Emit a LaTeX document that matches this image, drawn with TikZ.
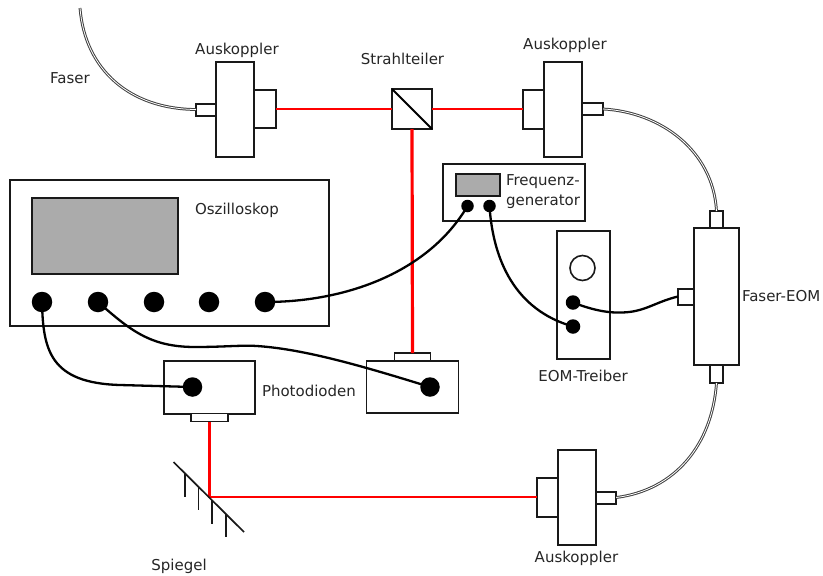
\documentclass[tikz,border=0pt]{standalone}
\usepackage{fontspec}
\setmainfont{DejaVu Sans}
\tikzset{
  part/.style={draw=black!90,line width=2pt,fill=white,inner sep=0pt,outer sep=0pt,rectangle},
  sized/.style 2 args={minimum width=#1pt,minimum height=#2pt},
  thinpart/.style={part,line width=1.7pt},
  screen/.style={part,fill=black!33},
  jack/.style={circle,fill=black,inner sep=0pt,outer sep=0pt,minimum size=#1pt},
  ring/.style={circle,draw=black!90,line width=1.6pt,fill=white,inner sep=0pt,outer sep=0pt,minimum size=25pt},
  beam/.style={draw=red,line width=2.7pt},
  widebeam/.style={draw=red,line width=3.2pt},
  fiber/.style={draw=black!75,double=white,double distance=0.8pt,line width=1pt},
  cable/.style={draw=black,line width=2.3pt},
  lbl/.style={text=black!85,font=\fontsize{15}{18}\selectfont,inner sep=0pt,outer sep=0pt},
  glass/.style={draw=black,line width=1.8pt},
  hatchline/.style={draw=black!90,line width=1.7pt}
}
\begin{document}
\begin{tikzpicture}[x=1pt,y=-1pt]
\useasboundingbox (0,0) rectangle (823,576);
\fill[white] (0,0) rectangle (823,576);

% free ends and mirror points
\coordinate (fiberend) at (80,8);
\coordinate (mhit) at (209.5,497);
\coordinate (ma) at (173.5,462);
\coordinate (mb) at (244,532);

% fibre couplers
\node[part,sized={38}{95}] (ak1) at (235,109.5) {};
\node[part,sized={20}{12}] (ak1l) at (206,109.5) {};
\node[part,sized={22}{38}] (ak1r) at (265,109) {};
\node[part,sized={38}{95}] (ak2) at (563,109.5) {};
\node[part,sized={21}{39}] (ak2l) at (533.5,109) {};
\node[part,sized={21}{12}] (ak2r) at (592.5,109) {};
\node[part,sized={38}{95}] (ak3) at (576.5,497.5) {};
\node[part,sized={21}{39}] (ak3l) at (547,497) {};
\node[part,sized={20.5}{12}] (ak3r) at (606,497.5) {};

% beam splitter
\node[part,sized={40}{40}] (bs) at (412,109) {};
\draw[glass] (bs.north west) -- (bs.south east);

% Faser-EOM
\node[part,sized={45}{137}] (eom) at (716.5,296.5) {};
\node[part,sized={13}{17}] (eomt) at (716.5,219.5) {};
\node[part,sized={13}{18}] (eomb) at (716.5,374) {};
\node[part,sized={16}{16}] (eoml) at (686,296.5) {};

% generator
\node[part,sized={142}{57}] (gen) at (514,192.5) {};
\node[screen,sized={44}{22}] (genscr) at (478,185) {};
\node[jack=12.5] (gena) at (467.5,206) {};
\node[jack=12.5] (genb) at (489.5,206) {};

% oscilloscope
\node[thinpart,sized={319}{146}] (osc) at (169.5,253) {};
\node[screen,sized={146}{76}] (oscscr) at (105,236) {};
\node[jack=20.5] (osca) at (42,302) {};
\node[jack=20.5] (oscb) at (98,302) {};
\node[jack=20.5] (oscc) at (154,302) {};
\node[jack=20.5] (oscd) at (209,302) {};
\node[jack=20.5] (osce) at (265,302) {};

% driver
\node[thinpart,sized={53}{128}] (drv) at (583.5,295) {};
\node[ring] (knob) at (582.5,268) {};
\node[jack=14.5] (drva) at (573,302.5) {};
\node[jack=14.5] (drvb) at (573,326.5) {};

% photodiodes
\node[thinpart,sized={91}{52.5}] (pda) at (209.5,387.5) {};
\node[thinpart,sized={36.5}{8}] (pdas) at (209.5,417.5) {};
\node[jack=19.5] (pdaj) at (192.5,387) {};
\node[thinpart,sized={92}{52}] (pdb) at (412.5,387) {};
\node[thinpart,sized={36}{8}] (pdbs) at (412.5,357) {};
\node[jack=19.5] (pdbj) at (430,387) {};

% beams
\draw[beam] (ak1r.east) -- (bs.west);
\draw[beam] (bs.east) -- (ak2l.west);
\draw[widebeam] (bs.south) -- (pdbs.north);
\draw[beam] (pdas.south) -- (mhit) -- (ak3l.west);

% mirror
\draw[hatchline] (ma) -- (mb);
\draw[hatchline] (185,473) -- (185,497);
\draw[hatchline] (198.5,486) -- (198.5,510);
\draw[hatchline] (212,500) -- (212,524);
\draw[hatchline] (226,514) -- (226,537);

% fibres
\draw[fiber] (fiberend) .. controls (85,70) and (130,109) .. (ak1l.west);
\draw[fiber] (ak2r.east) .. controls (660,112) and (713,150) .. (eomt.north);
\draw[fiber] (eomb.south) .. controls (712,445) and (675,490) .. (ak3r.east);

% cables
\draw[cable] (osce.center) .. controls (350,302) and (430,270) .. (gena.center);
\draw[cable] (genb.center) .. controls (493,260) and (515,310) .. (drvb.center);
\draw[cable] (drva.center) .. controls (595,311) and (610,313) .. (622,312.5) .. controls (645,312) and (655,302) .. (eoml.west);
\draw[cable] (osca.center) .. controls (43,350) and (50,383) .. (120,385) -- (pdaj.center);
\draw[cable] (oscb.center) .. controls (130,330) and (150,347) .. (195,347) .. controls (225,347) and (240,345) .. (257,346) .. controls (300,349) and (350,362) .. (pdbj.center);

% labels
\node[lbl] (tfaser) at (70,78) {Faser};
\node[lbl] (tak1) at (237,50) {Auskoppler};
\node[lbl] (tbs) at (402.5,58.5) {Strahlteiler};
\node[lbl] (tak2) at (565,45) {Auskoppler};
\node[lbl] (tosc) at (237,210) {Oszilloskop};
\node[lbl,anchor=west] (tgena) at (506,182) {Frequenz-};
\node[lbl,anchor=west] (tgenb) at (506,201.5) {generator};
\node[lbl,anchor=west] (teom) at (742,296.5) {Faser-EOM};
\node[lbl] (tdrv) at (583,375.5) {EOM-Treiber};
\node[lbl,anchor=west] (tpd) at (262,391) {Photodioden};
\node[lbl] (tsp) at (179,566) {Spiegel};
\node[lbl] (tak3) at (576.5,558) {Auskoppler};
\end{tikzpicture}
\end{document}
